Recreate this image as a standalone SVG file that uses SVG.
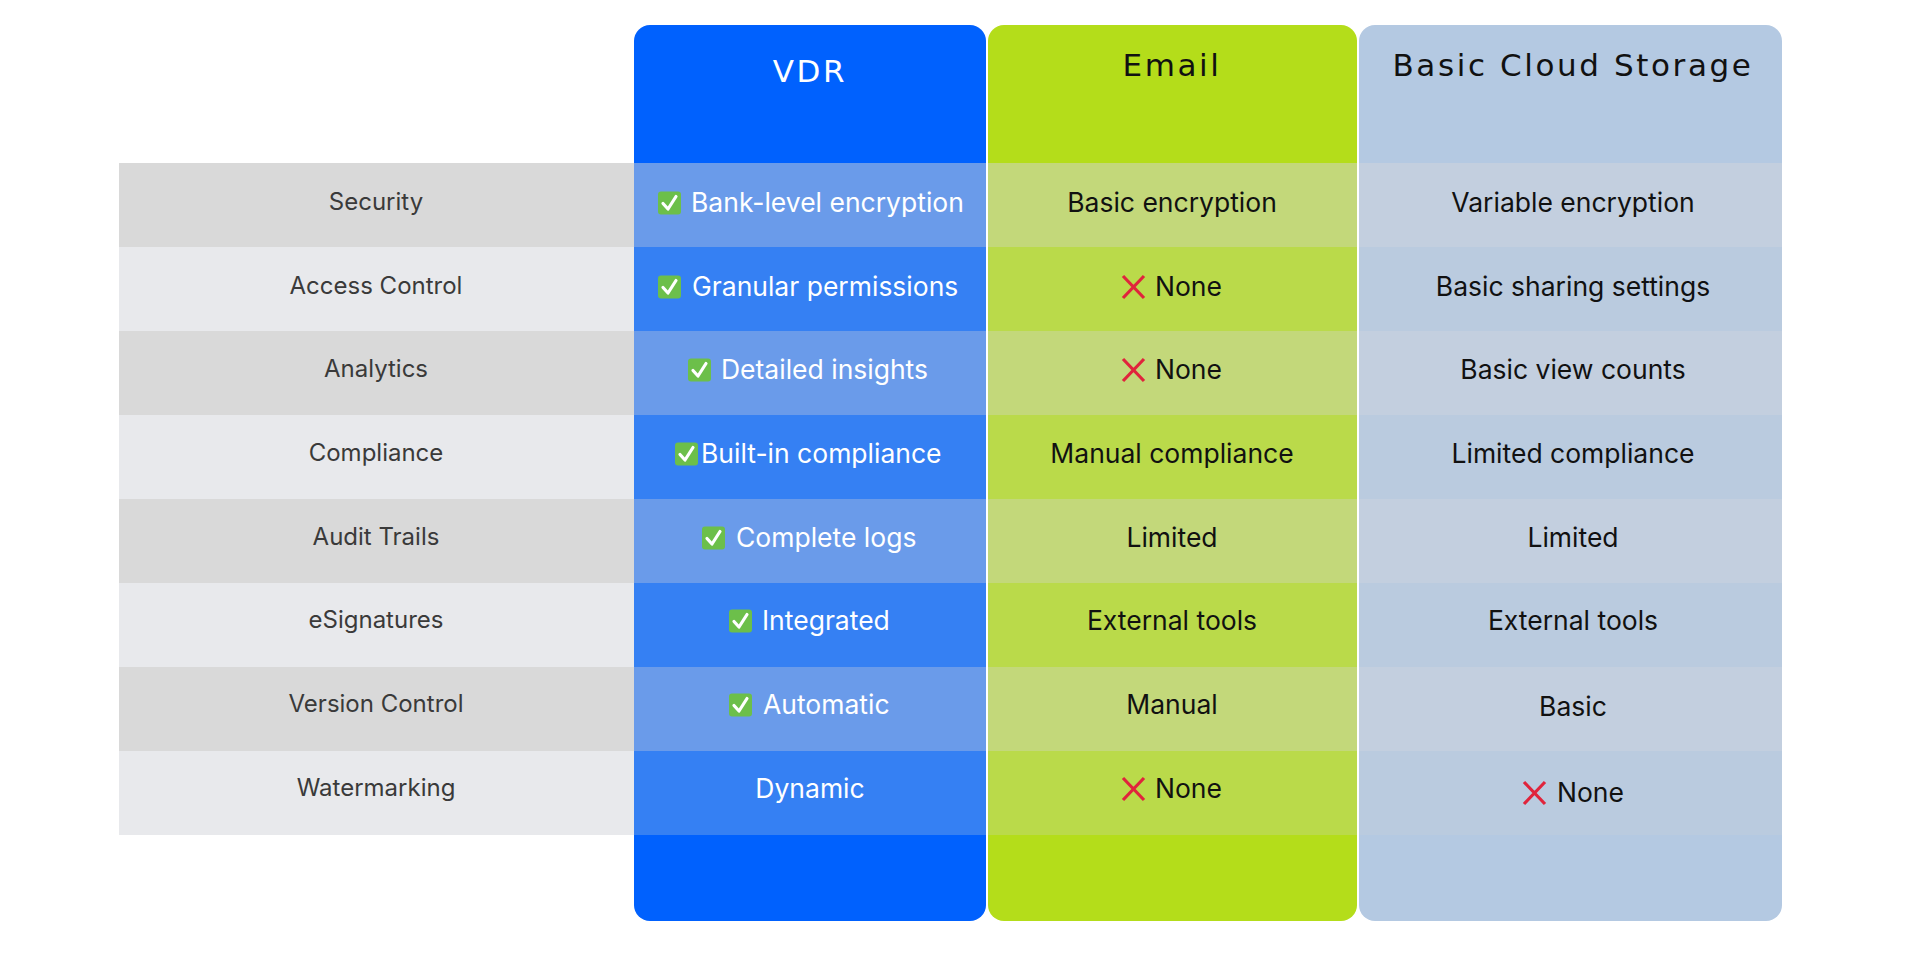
<svg xmlns="http://www.w3.org/2000/svg" width="1920" height="960" viewBox="0 0 1920 960">
<style>
.lab{font-family:Inter,"Noto Sans",sans-serif;font-size:24px;fill:#3a3a3a;text-anchor:middle}
.c{font-family:Inter,"Noto Sans",sans-serif;font-size:26.5px;text-anchor:middle}
.s{font-family:Inter,"Noto Sans",sans-serif;font-size:26.5px;text-anchor:start}
.w{fill:#ffffff}.k{fill:#111111}
.h{font-family:"DejaVu Sans",Inter,sans-serif;font-size:31px;letter-spacing:2.6px;text-anchor:middle}
</style>
<defs>
<g id="chk"><rect x="0" y="-11.5" width="23" height="23" rx="3" fill="#6cbf4a"/><path d="M5 0.5 L10 6 L18 -6.5" fill="none" stroke="#fff" stroke-width="3.2" stroke-linecap="round" stroke-linejoin="round"/></g>
<g id="x"><path d="M2 -11 L23 11 M23 -11 L2 11" stroke="#e0243c" stroke-width="3.2" fill="none"/></g>
</defs>
<rect width="1920" height="960" fill="#ffffff"/>
<g id="labels">
<rect x="119" y="163" width="515" height="84" fill="#d9d9d9"/>
<rect x="119" y="247" width="515" height="84" fill="#e8e9ec"/>
<rect x="119" y="331" width="515" height="84" fill="#d9d9d9"/>
<rect x="119" y="415" width="515" height="84" fill="#e8e9ec"/>
<rect x="119" y="499" width="515" height="84" fill="#d9d9d9"/>
<rect x="119" y="583" width="515" height="84" fill="#e8e9ec"/>
<rect x="119" y="667" width="515" height="84" fill="#d9d9d9"/>
<rect x="119" y="751" width="515" height="84" fill="#e8e9ec"/>
<text class="lab" x="376" y="210">Security</text>
<text class="lab" x="376" y="294">Access Control</text>
<text class="lab" x="376" y="377">Analytics</text>
<text class="lab" x="376" y="461">Compliance</text>
<text class="lab" x="376" y="545">Audit Trails</text>
<text class="lab" x="376" y="628">eSignatures</text>
<text class="lab" x="376" y="712">Version Control</text>
<text class="lab" x="376" y="796">Watermarking</text>
</g>
<g id="vdr">
<rect x="634" y="25" width="352" height="896" rx="16" fill="#0061fe"/>
<rect x="634" y="163" width="352" height="84" fill="#6a9bea"/>
<rect x="634" y="247" width="352" height="84" fill="#3580f3"/>
<rect x="634" y="331" width="352" height="84" fill="#6a9bea"/>
<rect x="634" y="415" width="352" height="84" fill="#3580f3"/>
<rect x="634" y="499" width="352" height="84" fill="#6a9bea"/>
<rect x="634" y="583" width="352" height="84" fill="#3580f3"/>
<rect x="634" y="667" width="352" height="84" fill="#6a9bea"/>
<rect x="634" y="751" width="352" height="84" fill="#3580f3"/>
<text class="h w" x="810" y="82">VDR</text>
<use href="#chk" x="658" y="203"/><text class="s w" x="691" y="212">Bank-level encryption</text>
<use href="#chk" x="658" y="287"/><text class="s w" x="692" y="296">Granular permissions</text>
<use href="#chk" x="688" y="370"/><text class="s w" x="721" y="379">Detailed insights</text>
<use href="#chk" x="675" y="454"/><text class="s w" x="701" y="463">Built-in compliance</text>
<use href="#chk" x="702" y="538"/><text class="s w" x="736" y="547">Complete logs</text>
<use href="#chk" x="729" y="621"/><text class="s w" x="762" y="630">Integrated</text>
<use href="#chk" x="729" y="705"/><text class="s w" x="763" y="714">Automatic</text>
<text class="c w" x="810" y="798">Dynamic</text>
</g>
<g id="email">
<rect x="988" y="25" width="369" height="896" rx="16" fill="#b4dd1a"/>
<rect x="988" y="163" width="369" height="84" fill="#c3d87a"/>
<rect x="988" y="247" width="369" height="84" fill="#bada4a"/>
<rect x="988" y="331" width="369" height="84" fill="#c3d87a"/>
<rect x="988" y="415" width="369" height="84" fill="#bada4a"/>
<rect x="988" y="499" width="369" height="84" fill="#c3d87a"/>
<rect x="988" y="583" width="369" height="84" fill="#bada4a"/>
<rect x="988" y="667" width="369" height="84" fill="#c3d87a"/>
<rect x="988" y="751" width="369" height="84" fill="#bada4a"/>
<text class="h k" x="1172" y="76">Email</text>
<text class="c k" x="1172" y="212">Basic encryption</text>
<use href="#x" x="1121" y="287"/><text class="s k" x="1155" y="296">None</text>
<use href="#x" x="1121" y="370"/><text class="s k" x="1155" y="379">None</text>
<text class="c k" x="1172" y="463">Manual compliance</text>
<text class="c k" x="1172" y="547">Limited</text>
<text class="c k" x="1172" y="630">External tools</text>
<text class="c k" x="1172" y="714">Manual</text>
<use href="#x" x="1121" y="789"/><text class="s k" x="1155" y="798">None</text>
</g>
<g id="cloud">
<rect x="1359" y="25" width="423" height="896" rx="16" fill="#b4c9e2"/>
<rect x="1359" y="163" width="423" height="84" fill="#c3cfdf"/>
<rect x="1359" y="247" width="423" height="84" fill="#bacbdf"/>
<rect x="1359" y="331" width="423" height="84" fill="#c3cfdf"/>
<rect x="1359" y="415" width="423" height="84" fill="#bacbdf"/>
<rect x="1359" y="499" width="423" height="84" fill="#c3cfdf"/>
<rect x="1359" y="583" width="423" height="84" fill="#bacbdf"/>
<rect x="1359" y="667" width="423" height="84" fill="#c3cfdf"/>
<rect x="1359" y="751" width="423" height="84" fill="#bacbdf"/>
<text class="h k" x="1573" y="76">Basic Cloud Storage</text>
<text class="c k" x="1573" y="212">Variable encryption</text>
<text class="c k" x="1573" y="296">Basic sharing settings</text>
<text class="c k" x="1573" y="379">Basic view counts</text>
<text class="c k" x="1573" y="463">Limited compliance</text>
<text class="c k" x="1573" y="547">Limited</text>
<text class="c k" x="1573" y="630">External tools</text>
<text class="c k" x="1573" y="716">Basic</text>
<use href="#x" x="1522" y="793"/><text class="s k" x="1557" y="802">None</text>
</g>
<g id="connectors"/>
</svg>
